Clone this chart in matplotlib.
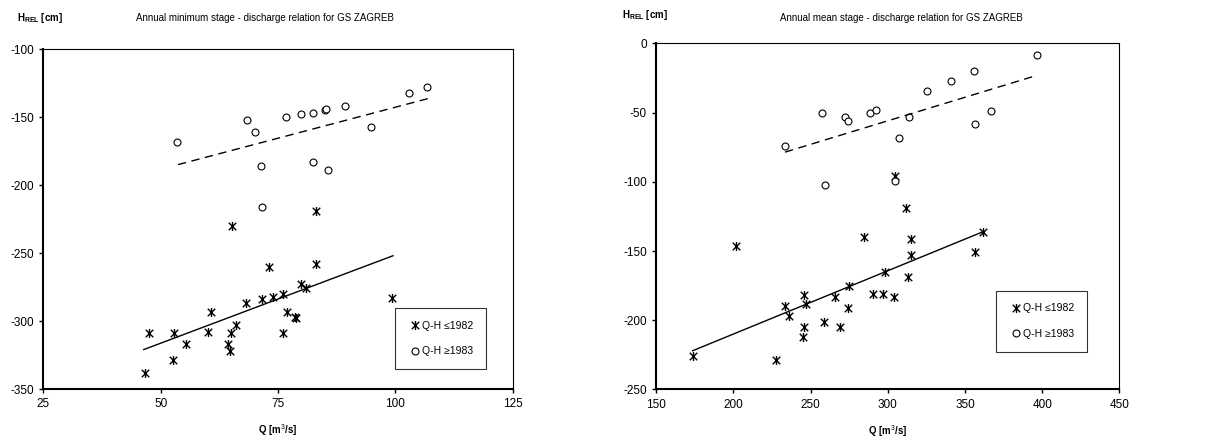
import matplotlib
matplotlib.use("Agg")
import matplotlib.pyplot as plt
from matplotlib.path import Path

plt.rcParams["font.family"] = ["Liberation Sans", "DejaVu Sans"]
plt.rcParams["mathtext.fontset"] = "custom"
plt.rcParams["mathtext.rm"] = "Liberation Sans"
plt.rcParams["mathtext.bf"] = "Liberation Sans:bold"
plt.rcParams["axes.unicode_minus"] = False

# --- annual minimum (left panel) ---
min_q_old = [83.1, 65.1, 73.1, 83.1, 80.0, 81.0, 76.1, 73.9, 71.5, 99.3, 68.1, 60.7,
             76.9, 78.6, 78.9, 66.1, 60.0, 47.5, 52.8, 64.9, 76.1, 55.5, 64.4, 64.7,
             52.6, 46.6]
min_h_old = [-219, -230, -260, -258, -273, -276, -280, -282, -284, -283, -287, -293,
             -293, -297, -298, -303, -308, -309, -309, -309, -309, -317, -317, -322,
             -329, -338]
min_q_new = [53.5, 68.3, 70.2, 71.3, 71.7, 76.8, 79.8, 82.5, 82.4, 85.1, 85.2, 85.7,
             89.2, 94.9, 102.9, 106.8]
min_h_new = [-168, -152, -161, -186, -216, -150, -148, -147, -183, -145, -144, -189,
             -142, -157, -132, -128]
min_fit_old_q = [46.4, 99.5]
min_fit_old_h = [-321, -252]
min_fit_new_q = [53.7, 106.9]
min_fit_new_h = [-185, -136.5]

# --- annual mean (right panel) ---
mean_q_old = [304.8, 311.9, 201.8, 284.9, 315.1, 361.7, 356.8, 315.1, 298.5, 313.0,
              275.0, 290.7, 296.8, 304.1, 245.8, 266.0, 233.7, 247.0, 274.1, 236.1,
              259.0, 245.8, 269.1, 245.0, 174.0, 227.9]
mean_h_old = [-96, -119, -146, -140, -141, -136, -151, -153, -165, -169,
              -175, -181, -181, -183, -182, -183, -190, -188, -191, -197,
              -201, -205, -205, -212, -226, -229]
mean_q_new = [233.5, 257.5, 259.4, 272.6, 274.1, 288.6, 292.7, 304.8, 307.6, 314.0,
              325.7, 340.8, 355.9, 356.8, 366.9, 396.7]
mean_h_new = [-74, -50, -102, -53, -56, -50, -48, -99, -68, -53,
              -34, -27, -20, -58, -49, -8]
mean_fit_old_q = [173.7, 361.7]
mean_fit_old_h = [-222, -136]
mean_fit_new_q = [233.5, 396.7]
mean_fit_new_h = [-78.5, -23]

star = Path([(-1, -1), (1, 1), (-1, 1), (1, -1), (0, -1.2), (0, 1.2)],
            [Path.MOVETO, Path.LINETO, Path.MOVETO, Path.LINETO, Path.MOVETO, Path.LINETO])

fig = plt.figure(figsize=(12.12, 4.37), dpi=100)
ax_min = fig.add_axes([0.0357, 0.1098, 0.3873, 0.778])
ax_mean = fig.add_axes([0.5413, 0.1087, 0.3823, 0.7918])


def draw(ax, q_old, h_old, q_new, h_new, fo_q, fo_h, fn_q, fn_h, legend_anchor):
    ax.plot(q_old, h_old, linestyle="none", marker=star, markersize=6.5,
            markeredgecolor="black", markeredgewidth=1.0, label="Q-H \u22641982")
    ax.plot(q_new, h_new, linestyle="none", marker="o", markersize=5,
            markerfacecolor="white", markeredgecolor="black", markeredgewidth=0.8,
            label="Q-H \u22651983")
    ax.plot(fo_q, fo_h, color="black", linewidth=1.0)
    ax.plot(fn_q, fn_h, color="black", linewidth=1.0, dashes=(6, 4))
    for side in ["top", "right"]:
        ax.spines[side].set_linewidth(0.8)
    for side in ["left", "bottom"]:
        ax.spines[side].set_linewidth(1.5)
    ax.tick_params(direction="out", length=3, width=1, labelsize=8.5)
    ax.set_xlabel("Q [m$^3$/s]", fontsize=7, fontweight="bold", labelpad=9)
    leg = ax.legend(loc="upper left", bbox_to_anchor=legend_anchor, fontsize=7.5,
                    frameon=True, fancybox=False, edgecolor="black",
                    labelspacing=1.5, borderpad=1.2, handletextpad=0.0,
                    handlelength=1.4, borderaxespad=0)
    leg.get_frame().set_linewidth(0.8)


draw(ax_min, min_q_old, min_h_old, min_q_new, min_h_new,
     min_fit_old_q, min_fit_old_h, min_fit_new_q, min_fit_new_h, (0.749, 0.238))
ax_min.set_xlim(25, 125)
ax_min.set_ylim(-350, -100)
ax_min.set_xticks([25, 50, 75, 100, 125])
ax_min.set_yticks([-350, -300, -250, -200, -150, -100])

draw(ax_mean, mean_q_old, mean_h_old, mean_q_new, mean_h_new,
     mean_fit_old_q, mean_fit_old_h, mean_fit_new_q, mean_fit_new_h, (0.734, 0.285))
ax_mean.set_xlim(150, 450)
ax_mean.set_ylim(-250, 0)
ax_mean.set_xticks([150, 200, 250, 300, 350, 400, 450])
ax_mean.set_yticks([-250, -200, -150, -100, -50, 0])

fig.text(0.014, 0.958, r"$\mathbf{H_{REL}}$ [cm]", fontsize=7, fontweight="bold", va="center")
fig.text(0.219, 0.958, "Annual minimum stage - discharge relation for GS ZAGREB",
         fontsize=7, ha="center", va="center")
fig.text(0.513, 0.965, r"$\mathbf{H_{REL}}$ [cm]", fontsize=7, fontweight="bold", va="center")
fig.text(0.744, 0.958, "Annual mean stage - discharge relation for GS ZAGREB",
         fontsize=7, ha="center", va="center")

fig.savefig("out.png", dpi=100)
